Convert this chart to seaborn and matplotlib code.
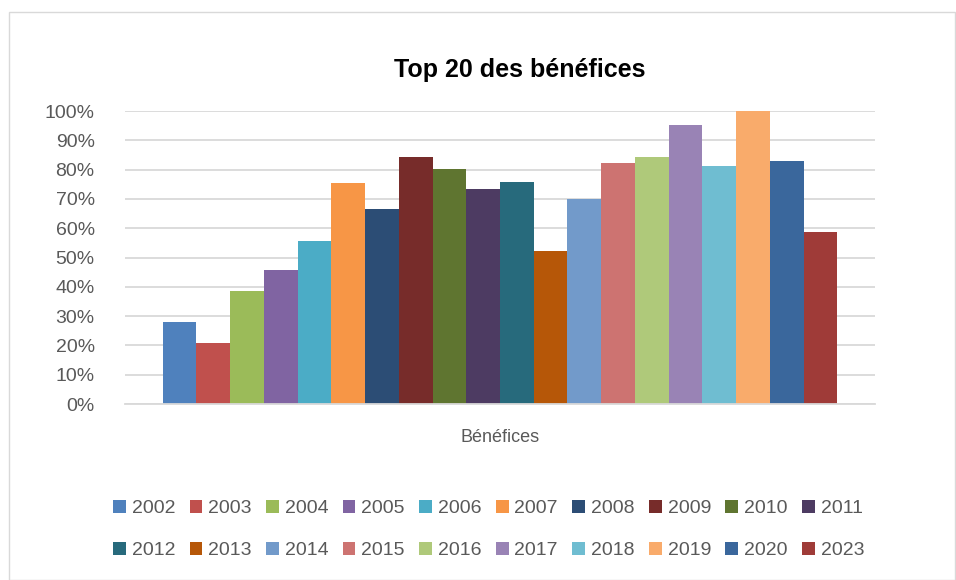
"""Top 20 des bénéfices — grouped bar chart by year."""

import matplotlib.pyplot as plt
import pandas as pd
import seaborn as sns
from matplotlib.patches import Patch, Rectangle
from matplotlib.ticker import PercentFormatter

years = ["2002", "2003", "2004", "2005", "2006", "2007", "2008", "2009", "2010", "2011",
         "2012", "2013", "2014", "2015", "2016", "2017", "2018", "2019", "2020", "2023"]
values = [0.281, 0.209, 0.386, 0.458, 0.557, 0.754, 0.666, 0.843, 0.802, 0.734,
          0.758, 0.523, 0.700, 0.823, 0.843, 0.952, 0.813, 1.000, 0.830, 0.588]
colors = ["#4F81BD", "#C0504D", "#9BBB59", "#8064A2", "#4BACC6", "#F79646", "#2C4D75",
          "#772C2A", "#5F7530", "#4D3B62", "#276A7C", "#B65708", "#729ACA", "#CD7371",
          "#AFC97A", "#9983B5", "#6FBDD1", "#F9AB6B", "#3A679C", "#9F3B38"]
category = "Bénéfices"

df = pd.DataFrame({"cat": category, "year": years, "value": values})

sns.set_theme(style="white")
plt.rcParams["font.family"] = ["Liberation Sans", "DejaVu Sans"]

fig = plt.figure(figsize=(9.56, 5.8), dpi=100)
ax = fig.add_axes([0.131, 0.3034, 0.784, 0.5052])

sns.barplot(data=df, x="cat", y="value", hue="year", hue_order=years,
            palette=colors, width=0.9, saturation=1, linewidth=0, ax=ax, legend=False)

ax.set_ylim(0, 1)
ax.set_xlim(-0.5, 0.5)
ax.set_yticks([i / 10 for i in range(11)])
ax.yaxis.set_major_formatter(PercentFormatter(1.0, decimals=0))
ax.yaxis.grid(True, color="#D9D9D9", linewidth=1.3)
ax.set_axisbelow(True)
for side in ["top", "right", "left"]:
    ax.spines[side].set_visible(False)
ax.spines["bottom"].set_color("#D9D9D9")
ax.spines["bottom"].set_linewidth(1.3)
ax.tick_params(axis="y", length=0, labelsize=14, labelcolor="#595959", pad=22)
ax.tick_params(axis="x", length=0, labelsize=13, labelcolor="#595959", pad=18)
ax.set_xlabel("")
ax.set_ylabel("")

fig.text(0.544, 0.879, "Top 20 des bénéfices", ha="center", va="center",
         fontsize=18, fontweight="bold", color="black")

# matplotlib fills legend columns first, so interleave to get row-major order
ncol = 10
order = [r * ncol + c for c in range(ncol) for r in range(2)]
handles = [Patch(facecolor=colors[i], edgecolor="none") for i in order]
labels = [years[i] for i in order]
fig.legend(handles, labels, loc="center", bbox_to_anchor=(0.511, 0.087), ncol=ncol,
           frameon=False, fontsize=14, labelcolor="#595959",
           handlelength=0.65, handleheight=0.65, handletextpad=0.3,
           columnspacing=0.75, labelspacing=1.25)

fig.patches.append(Rectangle((0.009, 0.0), 0.99, 0.979, transform=fig.transFigure,
                             fill=False, edgecolor="#D9D9D9", linewidth=1.0))

fig.savefig("out.png", dpi=100)
